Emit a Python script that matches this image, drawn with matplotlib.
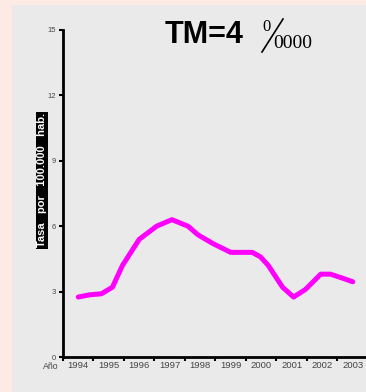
import matplotlib
matplotlib.use("Agg")
import matplotlib.pyplot as plt
from matplotlib.patches import Rectangle
from matplotlib.lines import Line2D

# data
years = [1994.0, 1994.36, 1994.76, 1995.12, 1995.45, 1996.0, 1996.57, 1997.07,
         1997.6, 1997.93, 1998.42, 1999.0, 1999.7, 1999.97, 2000.23, 2000.7,
         2001.06, 2001.45, 2001.95, 2002.27, 2002.7, 2003.0]
rate = [2.75, 2.85, 2.9, 3.2, 4.2, 5.4, 6.0, 6.3, 6.0, 5.6, 5.2, 4.8, 4.8,
        4.6, 4.2, 3.2, 2.75, 3.1, 3.8, 3.8, 3.6, 3.45]
year_labels = ["1994", "1995", "1996", "1997", "1998", "1999", "2000",
               "2001", "2002", "2003"]
y_ticks = [0, 3, 6, 9, 12, 15]

fig = plt.figure(figsize=(3.66, 3.92), dpi=100)
fig.patch.set_facecolor("#fdeae5")
# grey panel behind the chart
fig.patches.append(Rectangle((12 / 366, 0), 1, 1 - 5 / 392, transform=fig.transFigure,
                             facecolor="#eaeaea", edgecolor="none", zorder=-5))

ax = fig.add_axes([63 / 366, 1 - 357 / 392, 305 / 366, 327 / 392])
ax.set_zorder(2)
ax.set_facecolor("#eaeaea")
ax.plot(years, rate, color="#ff00ff", lw=3.6, solid_joinstyle="round",
        solid_capstyle="round", zorder=3)

ax.set_xlim(1993.5, 2003.5)
ax.set_ylim(0, 15)
ax.set_yticks(y_ticks)
ax.set_yticklabels([str(v) for v in y_ticks], fontsize=5.5, color="#444444",
                   family="Liberation Sans")

# boundaries as major ticks, labels on the year centres
ax.set_xticks([y - 0.5 for y in range(1994, 2004)])
ax.set_xticklabels([])
ax.set_xticks(list(range(1994, 2004)), minor=True)
ax.set_xticklabels(year_labels, minor=True, fontsize=6.8, color="#444444",
                   family="Liberation Sans")
ax.tick_params(axis="x", which="minor", length=0, pad=3)
ax.tick_params(axis="x", which="major", length=3, width=1.5, direction="out")
ax.tick_params(axis="y", length=3, width=1.5, pad=2)

for s in ["top", "right"]:
    ax.spines[s].set_visible(False)
for s in ["left", "bottom"]:
    ax.spines[s].set_linewidth(2)

ax.text(-0.04, -0.016, "Año", transform=ax.transAxes, fontsize=6.3,
        color="#444444", family="Liberation Sans", ha="center", va="top")

ax.text(-0.069, 0.54, "Tasa   por   100.000   hab.", transform=ax.transAxes,
        rotation=90, fontsize=8, color="white", ha="center", va="center",
        family="Liberation Sans", fontweight="bold",
        bbox=dict(boxstyle="square,pad=0.1", fc="black", ec="none"))

# title: TM=4 per diez mil
fig.text(165 / 366, 1 - 35 / 392, "TM=4", fontsize=22, fontweight="bold",
         family="Liberation Sans", va="center", ha="left")
fig.text(262 / 366, 1 - 27 / 392, "0", fontsize=12, family="Liberation Serif",
         va="center", ha="left")
fig.lines.append(Line2D([262 / 366, 283 / 366], [1 - 52 / 392, 1 - 19 / 392],
                        transform=fig.transFigure, color="black", lw=1.2))
fig.text(273 / 366, 1 - 44 / 392, "0000", fontsize=14, family="Liberation Serif",
         va="center", ha="left")

fig.savefig("out.png", dpi=100, facecolor=fig.get_facecolor())
